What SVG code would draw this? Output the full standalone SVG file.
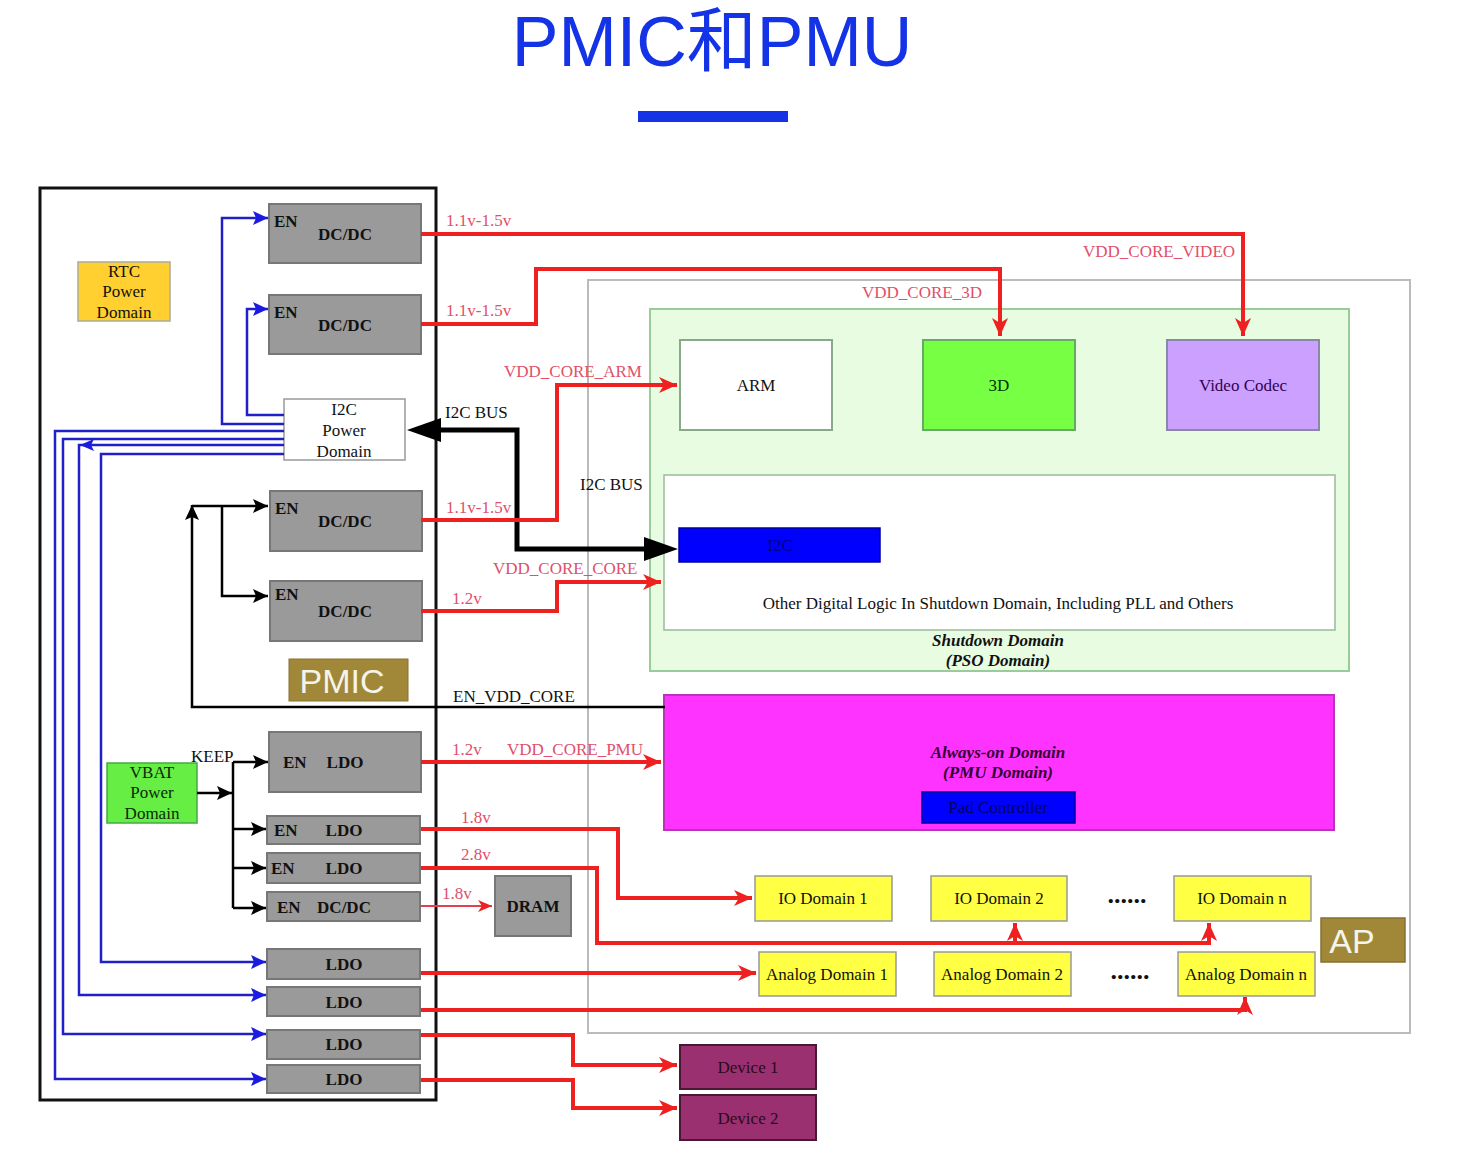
<svg xmlns="http://www.w3.org/2000/svg" width="1460" height="1154" viewBox="0 0 1460 1154">
<style>
.t{font-family:"Liberation Serif","DejaVu Serif",serif;font-size:17px;fill:#111}
.c{text-anchor:middle}
.b{font-weight:bold}
.dots{font-family:"Liberation Serif","DejaVu Serif",serif;font-size:26px;font-weight:bold;fill:#111;text-anchor:middle}
.lbl{font-family:"Liberation Serif","DejaVu Serif",serif;font-size:17px;fill:#e0506a}
.gray{fill:#9a9a9a;stroke:#777;stroke-width:2}
.red{fill:none;stroke:#ee2020;stroke-width:4}
.blue{fill:none;stroke:#2020c8;stroke-width:2.5}
.blk{fill:none;stroke:#000;stroke-width:2.5}
.yel{fill:#ffff44;stroke:#999;stroke-width:1.5}
.bi{font-style:italic;font-weight:bold}
</style>
<defs>
<marker id="ar" markerUnits="userSpaceOnUse" markerWidth="20" markerHeight="16" refX="18" refY="8" orient="auto"><path d="M0,0 L18,8 L0,16 L5,8 z" fill="#ee2020"/></marker>
<marker id="ars" markerUnits="userSpaceOnUse" markerWidth="16" markerHeight="12" refX="14" refY="6" orient="auto"><path d="M0,0 L14,6 L0,12 L4,6 z" fill="#ee2020"/></marker>
<marker id="ab" markerUnits="userSpaceOnUse" markerWidth="16" markerHeight="14" refX="15" refY="7" orient="auto"><path d="M0,0 L15,7 L0,14 L3,7 z" fill="#1a1ae0"/></marker>
<marker id="ak" markerUnits="userSpaceOnUse" markerWidth="16" markerHeight="14" refX="15" refY="7" orient="auto"><path d="M0,0 L15,7 L0,14 L3,7 z" fill="#000"/></marker>
</defs>
<rect width="1460" height="1154" fill="#fff"/>
<g id="title">
<text x="712" y="66" text-anchor="middle" font-family="'Liberation Sans','Noto Sans CJK SC',sans-serif" font-size="70" fill="#1432e6">PMIC和PMU</text>
<rect x="638" y="111" width="150" height="11" fill="#1432e6"/>
</g>
<g id="ap">
<rect x="588" y="280" width="822" height="753" fill="#fff" stroke="#bbb" stroke-width="2"/>
</g>
<g id="pmic">
<rect x="40" y="188" width="396" height="912" fill="none" stroke="#111" stroke-width="3"/>
</g>
<g id="shutdown">
<rect x="650" y="309" width="699" height="362" fill="#e8fce2" stroke="#9c9" stroke-width="2"/>
<text class="t c bi" x="998" y="646" fill="#002200">Shutdown Domain</text>
<text class="t c bi" x="998" y="666" fill="#002200">(PSO Domain)</text>
</g>
<g id="arm"><rect x="680" y="340" width="152" height="90" fill="#fff" stroke="#8a8" stroke-width="2"/><text class="t c" x="756" y="391">ARM</text></g>
<g id="gpu3d"><rect x="923" y="340" width="152" height="90" fill="#77ff44" stroke="#6a6" stroke-width="2"/><text class="t c" x="999" y="391" style="fill:#003300">3D</text></g>
<g id="video"><rect x="1167" y="340" width="152" height="90" fill="#cca0ff" stroke="#88a" stroke-width="2"/><text class="t c" x="1243" y="391" style="fill:#330055">Video Codec</text></g>
<g id="otherlogic"><rect x="664" y="475" width="671" height="155" fill="#fff" stroke="#9b9" stroke-width="1.5"/><text class="t c" x="998" y="609">Other Digital Logic In Shutdown Domain, Including PLL and Others</text></g>
<g id="i2c-ap"><rect x="679" y="528" width="201" height="34" fill="#0000ff" stroke="#0000a0" stroke-width="1.5"/><text class="t c" x="780" y="551" style="fill:#000080">I2C</text></g>
<g id="alwayson">
<rect x="664" y="695" width="670" height="135" fill="#ff33ff" stroke="#b3b" stroke-width="2"/>
<text class="t c bi" x="998" y="758" style="fill:#330033">Always-on Domain</text>
<text class="t c bi" x="998" y="778" style="fill:#330033">(PMU Domain)</text>
</g>
<g id="padctrl"><rect x="922" y="792" width="153" height="31" fill="#0000ff" stroke="#0000a0" stroke-width="1.5"/><text class="t c" x="998" y="813" style="fill:#000060">Pad Controller</text></g>
<g id="io1"><rect class="yel" x="755" y="876" width="137" height="45"/><text class="t c" x="823" y="904">IO Domain 1</text></g>
<g id="io2"><rect class="yel" x="931" y="876" width="136" height="45"/><text class="t c" x="999" y="904">IO Domain 2</text></g>
<text class="dots" x="1127" y="903">......</text>
<g id="ion"><rect class="yel" x="1174" y="876" width="137" height="45"/><text class="t c" x="1242" y="904">IO Domain n</text></g>
<g id="an1"><rect class="yel" x="759" y="952" width="137" height="44"/><text class="t c" x="827" y="980">Analog Domain 1</text></g>
<g id="an2"><rect class="yel" x="934" y="952" width="137" height="44"/><text class="t c" x="1002" y="980">Analog Domain 2</text></g>
<text class="dots" x="1130" y="979">......</text>
<g id="ann"><rect class="yel" x="1178" y="952" width="137" height="44"/><text class="t c" x="1246" y="980">Analog Domain n</text></g>
<g id="aplabel"><rect x="1321" y="918" width="84" height="44" fill="#a08838" stroke="#887030" stroke-width="1.5"/><text x="1352" y="953" text-anchor="middle" font-family="'Liberation Sans',sans-serif" font-size="34" fill="#f4f4ea">AP</text></g>
<g id="dev1"><rect x="680" y="1045" width="136" height="44" fill="#9b3070" stroke="#4a1836" stroke-width="2"/><text class="t c" x="748" y="1073" style="fill:#2a0a1a">Device 1</text></g>
<g id="dev2"><rect x="680" y="1095" width="136" height="45" fill="#9b3070" stroke="#4a1836" stroke-width="2"/><text class="t c" x="748" y="1124" style="fill:#2a0a1a">Device 2</text></g>
<g id="rtc"><rect x="78" y="262" width="92" height="59" fill="#ffd030" stroke="#aa9" stroke-width="1.5"/><text class="t c" x="124" y="277">RTC</text><text class="t c" x="124" y="297">Power</text><text class="t c" x="124" y="318">Domain</text></g>
<g id="dcdc1"><rect class="gray" x="269" y="204" width="152" height="59"/><text class="t b" x="274" y="227">EN</text><text class="t c b" x="345" y="240">DC/DC</text></g>
<g id="dcdc2"><rect class="gray" x="269" y="295" width="152" height="59"/><text class="t b" x="274" y="318">EN</text><text class="t c b" x="345" y="331">DC/DC</text></g>
<g id="i2cpd"><rect x="284" y="399" width="121" height="61" fill="#fff" stroke="#999" stroke-width="1.5"/><text class="t c" x="344" y="415">I2C</text><text class="t c" x="344" y="436">Power</text><text class="t c" x="344" y="457">Domain</text></g>
<g id="dcdc3"><rect class="gray" x="270" y="491" width="152" height="60"/><text class="t b" x="275" y="514">EN</text><text class="t c b" x="345" y="527">DC/DC</text></g>
<g id="dcdc4"><rect class="gray" x="270" y="581" width="152" height="60"/><text class="t b" x="275" y="600">EN</text><text class="t c b" x="345" y="617">DC/DC</text></g>
<g id="pmiclabel"><rect x="289" y="659" width="119" height="42" fill="#a08838" stroke="#887030" stroke-width="1"/><text x="342" y="693" text-anchor="middle" font-family="'Liberation Sans',sans-serif" font-size="34" fill="#f4f4ea">PMIC</text></g>
<g id="vbat"><rect x="107" y="763" width="90" height="60" fill="#66ee44" stroke="#4a4" stroke-width="1.5"/><text class="t c" x="152" y="778" style="fill:#0a2a0a">VBAT</text><text class="t c" x="152" y="798" style="fill:#0a2a0a">Power</text><text class="t c" x="152" y="819" style="fill:#0a2a0a">Domain</text></g>
<g id="ldo1"><rect class="gray" x="269" y="732" width="152" height="60"/><text class="t b" x="283" y="768">EN</text><text class="t c b" x="345" y="768">LDO</text></g>
<g id="ldo2"><rect class="gray" x="267" y="816" width="153" height="28"/><text class="t b" x="274" y="836">EN</text><text class="t c b" x="344" y="836">LDO</text></g>
<g id="ldo3"><rect class="gray" x="267" y="853" width="153" height="30"/><text class="t b" x="271" y="874">EN</text><text class="t c b" x="344" y="874">LDO</text></g>
<g id="dcdc5"><rect class="gray" x="267" y="892" width="153" height="29"/><text class="t b" x="277" y="913">EN</text><text class="t c b" x="344" y="913">DC/DC</text></g>
<g id="dram"><rect class="gray" x="495" y="876" width="76" height="60" stroke="#666"/><text class="t c b" x="533" y="912">DRAM</text></g>
<g id="ldoA"><rect class="gray" x="267" y="949" width="153" height="30"/><text class="t c b" x="344" y="970">LDO</text></g>
<g id="ldoB"><rect class="gray" x="267" y="987" width="153" height="29"/><text class="t c b" x="344" y="1008">LDO</text></g>
<g id="ldoC"><rect class="gray" x="267" y="1030" width="153" height="29"/><text class="t c b" x="344" y="1050">LDO</text></g>
<g id="ldoD"><rect class="gray" x="267" y="1065" width="153" height="28"/><text class="t c b" x="344" y="1085">LDO</text></g>
<g id="connectors">
<path class="blue" d="M284,424 H222 V218 H268" marker-end="url(#ab)"/>
<path class="blue" d="M284,415 H247 V309 H268" marker-end="url(#ab)"/>
<path class="blue" d="M284,431 H55 V1079 H266" marker-end="url(#ab)"/>
<path class="blue" d="M284,439 H63 V1034 H266" marker-end="url(#ab)"/>
<path class="blue" d="M284,445 H79 V995 H266" marker-end="url(#ab)"/>
<path class="blue" d="M284,454 H101 V962 H266" marker-end="url(#ab)"/>
<path d="M80,445 L94,439 L91,445 L94,451 z" fill="#1a1ae0"/>
<path class="blk" d="M665,707 H192 V505" marker-end="url(#ak)"/>
<path class="blk" d="M192,506 H268" marker-end="url(#ak)"/>
<path class="blk" d="M222,506 V596 H268" marker-end="url(#ak)"/>
<path class="blk" d="M197,793 H232" marker-end="url(#ak)"/>
<path class="blk" d="M233,762 V908"/>
<path class="blk" d="M233,762 H268" marker-end="url(#ak)"/>
<path class="blk" d="M233,829 H266" marker-end="url(#ak)"/>
<path class="blk" d="M233,868 H266" marker-end="url(#ak)"/>
<path class="blk" d="M233,908 H266" marker-end="url(#ak)"/>
<path fill="none" stroke="#000" stroke-width="5" d="M440,430 H517 V549 H645"/>
<path d="M407,430 L441,418 L441,442 z" fill="#000"/>
<path d="M678,549 L644,537 L644,561 z" fill="#000"/>
<path class="red" d="M421,234 H1243 V336" marker-end="url(#ar)"/>
<path class="red" d="M421,324 H536 V269 H1000 V336" marker-end="url(#ar)"/>
<path class="red" d="M421,520 H557 V385 H677" marker-end="url(#ar)"/>
<path class="red" d="M421,611 H557 V582 H661" marker-end="url(#ar)"/>
<path class="red" d="M421,762 H661" marker-end="url(#ar)"/>
<path class="red" d="M421,829 H618 V898 H752" marker-end="url(#ar)"/>
<path class="red" d="M421,868 H597 V943 H1209 V923" marker-end="url(#ar)"/>
<path class="red" d="M1015,943 V923" marker-end="url(#ar)"/>
<path fill="none" stroke="#e04050" stroke-width="2" d="M421,906 H492" marker-end="url(#ars)"/>
<path class="red" d="M421,973 H756" marker-end="url(#ar)"/>
<path class="red" d="M421,1010 H1245 V997" marker-end="url(#ar)"/>
<path class="red" d="M421,1035 H573 V1065 H677" marker-end="url(#ar)"/>
<path class="red" d="M421,1080 H573 V1108 H677" marker-end="url(#ar)"/>
</g>
<g id="labels">
<text class="lbl" x="446" y="226">1.1v-1.5v</text>
<text class="lbl" x="446" y="316">1.1v-1.5v</text>
<text class="lbl" x="446" y="513">1.1v-1.5v</text>
<text class="lbl" x="452" y="604">1.2v</text>
<text class="lbl" x="452" y="755">1.2v</text>
<text class="lbl" x="461" y="823">1.8v</text>
<text class="lbl" x="461" y="860">2.8v</text>
<text class="lbl" x="442" y="899">1.8v</text>
<text class="lbl" x="1083" y="257">VDD_CORE_VIDEO</text>
<text class="lbl" x="862" y="298">VDD_CORE_3D</text>
<text class="lbl" x="504" y="377">VDD_CORE_ARM</text>
<text class="lbl" x="493" y="574">VDD_CORE_CORE</text>
<text class="lbl" x="507" y="755">VDD_CORE_PMU</text>
<text class="t" x="445" y="418">I2C BUS</text>
<text class="t" x="580" y="490">I2C BUS</text>
<text class="t" x="453" y="702">EN_VDD_CORE</text>
<text class="t" x="191" y="762">KEEP</text>
</g>
</svg>
